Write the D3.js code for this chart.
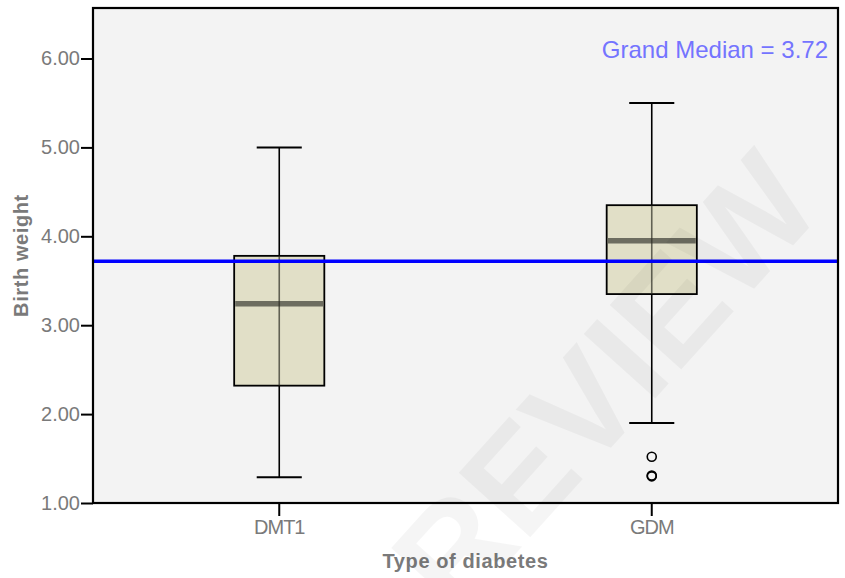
<!DOCTYPE html>
<html><head><meta charset="utf-8">
<script src="https://cdn.jsdelivr.net/npm/d3@7"></script>
<style>body{margin:0;background:#fff}svg{display:block}</style>
</head><body>
<svg id="c" width="845" height="578"></svg>
<script>
const categories = ["DMT1", "GDM"];
const q1 = [2.32, 3.35];
const medians = [3.24, 3.95];
const q3 = [3.78, 4.35];
const whiskerLow = [1.29, 1.90];
const whiskerHigh = [5.00, 5.50];
const outliers = [[], [1.52, 1.30, 1.31]];
const yTicks = [1, 2, 3, 4, 5, 6];
const grandMedian = 3.72;
const yTitle = "Birth weight";
const xTitle = "Type of diabetes";
const watermark = "PEER REVIEW";

const svg = d3.select("#c");
const L = 93, T = 8, R = 838, B = 503;
const y = d3.scaleLinear().domain([1, 1 + 495 / 88.9]).range([B, T]);
const x = d3.scaleBand().domain(categories).range([L, R]);
const cx = d => x(d) + x.bandwidth() / 2;
const boxW = x.bandwidth() * 0.242, capW = boxW / 2;

svg.append("rect").attr("x", L).attr("y", T).attr("width", R - L).attr("height", B - T).attr("fill", "#f3f3f3");

// axes
const ya = svg.append("g").attr("transform", `translate(${L},0)`)
  .call(d3.axisLeft(y).tickValues(yTicks).tickFormat(d3.format(".2f")).tickSize(12).tickPadding(1));
ya.select(".domain").remove();
ya.selectAll("line").attr("stroke", "#000").attr("stroke-width", 2);
ya.selectAll("text").attr("font-family", "Liberation Sans, Arial, sans-serif").attr("font-size", 20).attr("fill", "#7a7a7a");

const xa = svg.append("g").attr("transform", `translate(0,${B})`)
  .call(d3.axisBottom(x).tickSize(13).tickPadding(4));
xa.select(".domain").remove();
xa.selectAll("line").attr("stroke", "#000").attr("stroke-width", 2);
xa.selectAll("text").attr("font-family", "Liberation Sans, Arial, sans-serif").attr("font-size", 20)
  .attr("letter-spacing", -1).attr("fill", "#7a7a7a");

// boxes
const g = svg.append("g");
categories.forEach((c, i) => {
  const xc = cx(c);
  g.append("line").attr("x1", xc).attr("x2", xc).attr("y1", y(whiskerHigh[i])).attr("y2", y(q3[i])).attr("stroke", "#000").attr("stroke-width", 1.6);
  g.append("line").attr("x1", xc).attr("x2", xc).attr("y1", y(q1[i])).attr("y2", y(whiskerLow[i])).attr("stroke", "#000").attr("stroke-width", 1.6);
  [whiskerHigh[i], whiskerLow[i]].forEach(v => g.append("line").attr("x1", xc - capW / 2).attr("x2", xc + capW / 2)
    .attr("y1", y(v)).attr("y2", y(v)).attr("stroke", "#000").attr("stroke-width", 2));
  g.append("rect").attr("x", xc - boxW / 2).attr("y", y(q3[i])).attr("width", boxW).attr("height", y(q1[i]) - y(q3[i]))
    .attr("fill", "#e1dfc7").attr("stroke", "#000").attr("stroke-width", 1.8);
  g.append("line").attr("x1", xc - boxW / 2 + 1).attr("x2", xc + boxW / 2 - 1).attr("y1", y(medians[i])).attr("y2", y(medians[i]))
    .attr("stroke", "#6d6d60").attr("stroke-width", 5.5);
  g.append("line").attr("x1", xc).attr("x2", xc).attr("y1", y(q3[i])).attr("y2", y(q1[i])).attr("stroke", "#2b2b22").attr("stroke-opacity", 0.7).attr("stroke-width", 1.6);
  outliers[i].forEach(v => g.append("circle").attr("cx", xc).attr("cy", y(v)).attr("r", 4.5)
    .attr("fill", "none").attr("stroke", "#000").attr("stroke-width", 1.6));
});

// grand median
svg.append("line").attr("x1", L).attr("x2", R).attr("y1", y(grandMedian)).attr("y2", y(grandMedian))
  .attr("stroke", "#0000ff").attr("stroke-width", 3.5);
svg.append("text").attr("x", 828).attr("y", 58).attr("text-anchor", "end")
  .attr("font-family", "Liberation Sans, Arial, sans-serif").attr("font-size", 24).attr("fill", "#7474ff")
  .text(`Grand Median = ${grandMedian.toFixed(2)}`);

// frame
svg.append("rect").attr("x", L).attr("y", T).attr("width", R - L).attr("height", B - T)
  .attr("fill", "none").attr("stroke", "#000").attr("stroke-width", 2.2);

// titles
svg.append("text").attr("x", (L + R) / 2).attr("y", 568).attr("text-anchor", "middle")
  .attr("font-family", "Liberation Sans, Arial, sans-serif").attr("font-weight", "bold").attr("font-size", 20)
  .attr("letter-spacing", 0.6).attr("fill", "#7a7a7a").text(xTitle);
svg.append("text").attr("transform", `translate(28,${(T + B) / 2}) rotate(-90)`).attr("text-anchor", "middle")
  .attr("font-family", "Liberation Sans, Arial, sans-serif").attr("font-weight", "bold").attr("font-size", 20)
  .attr("letter-spacing", 0.6).attr("fill", "#7a7a7a").text(yTitle);

// watermark
svg.append("text").attr("transform", "translate(826,209) rotate(-48)").attr("text-anchor", "end")
  .attr("font-family", "Liberation Sans, Arial, sans-serif").attr("font-weight", "bold").attr("font-size", 140)
  .attr("fill", "#000").attr("fill-opacity", 0.04).text(watermark);
</script>
</body></html>
